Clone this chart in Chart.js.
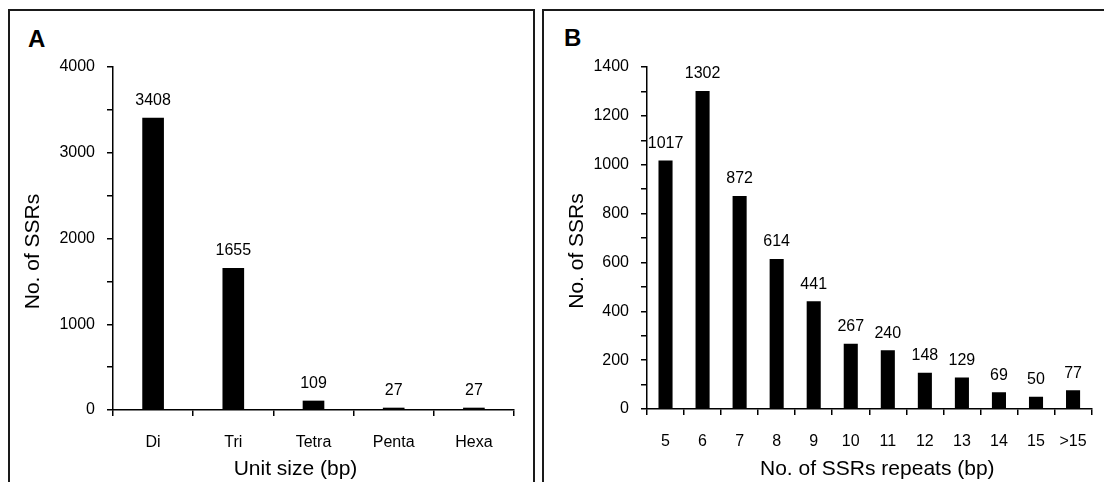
<!DOCTYPE html>
<html>
<head>
<meta charset="utf-8">
<script src="https://cdn.jsdelivr.net/npm/chart.js@4.4.1/dist/chart.umd.min.js"></script>
<style>
  html, body { margin: 0; padding: 0; background: #fff; }
  #page { position: relative; width: 1104px; height: 482px; overflow: hidden; font-family: 'Liberation Sans', Arial, sans-serif; }
  .box { position: absolute; border: 2px solid #1a1a1a; border-bottom: none; box-sizing: border-box; }
  #boxA { left: 8px; top: 9px; width: 527px; height: 480px; }
  #boxB { left: 542px; top: 9px; width: 600px; height: 480px; }
  .letter { position: absolute; font-weight: bold; font-size: 24px; line-height: 24px; color: #000; }
  canvas { position: absolute; top: 0; }
</style>
</head>
<body>
<div id="page">
  <div class="box" id="boxA"></div>
  <div class="box" id="boxB"></div>
  <div class="letter" style="left:28px; top:27px;">A</div>
  <div class="letter" style="left:564px; top:26px;">B</div>
  <canvas id="chartA" width="540" height="482" style="left:0"></canvas>
  <canvas id="chartB" width="564" height="482" style="left:540px"></canvas>
</div>
<script>
// Panel A: SSR unit size
const unitLabels = ['Di', 'Tri', 'Tetra', 'Penta', 'Hexa'];
const unitCounts = [3408, 1655, 109, 27, 27];

// Panel B: repeat number
const repeatLabels = ['5', '6', '7', '8', '9', '10', '11', '12', '13', '14', '15', '>15'];
const repeatCounts = [1017, 1302, 872, 614, 441, 267, 240, 148, 129, 69, 50, 77];

const FONT = "'Liberation Sans', Arial, sans-serif";

// draws the count above each bar
const valueLabels = {
    id: 'valueLabels',
    afterDatasetsDraw(chart) {
        const ctx = chart.ctx;
        const meta = chart.getDatasetMeta(0);
        ctx.save();
        ctx.font = '16px ' + FONT;
        ctx.fillStyle = '#000';
        ctx.textAlign = 'center';
        ctx.textBaseline = 'bottom';
        meta.data.forEach((bar, i) => {
            ctx.fillText(String(chart.data.datasets[0].data[i]), bar.x, bar.y - 9);
        });
        ctx.restore();
    }
};

// axis titles, nudged off-centre like the original figure
const axisTitles = {
    id: 'axisTitles',
    afterDraw(chart, args, o) {
        const ctx = chart.ctx;
        const area = chart.chartArea;
        ctx.save();
        ctx.font = '21px ' + FONT;
        ctx.fillStyle = '#000';
        ctx.textAlign = 'center';
        ctx.textBaseline = 'middle';
        ctx.fillText(o.xText, (area.left + area.right) / 2 + o.xShift, o.xTitleY);
        ctx.translate(o.yTitleX, (area.top + area.bottom) / 2 + o.yShift);
        ctx.rotate(-Math.PI / 2);
        ctx.fillText(o.yText, 0, 0);
        ctx.restore();
    }
};

function makeChart(id, labels, data, opts) {
    const ctx = document.getElementById(id).getContext('2d');
    return new Chart(ctx, {
        type: 'bar',
        data: {
            labels: labels,
            datasets: [{
                data: data,
                backgroundColor: '#000',
                borderWidth: 0,
                categoryPercentage: 1,
                barPercentage: opts.barPct
            }]
        },
        options: {
            responsive: false,
            animation: false,
            events: [],
            layout: { padding: { left: 0, right: opts.padRight, top: 67, bottom: 0 } },
            plugins: {
                legend: { display: false },
                tooltip: { enabled: false },
                axisTitles: {
                    xText: opts.xTitle, xShift: opts.xShift, xTitleY: 469,
                    yText: 'No. of SSRs', yTitleX: opts.yTitleX, yShift: 13
                }
            },
            scales: {
                x: {
                    grid: { offset: true, drawOnChartArea: false, color: '#000', tickLength: 6, lineWidth: 1.5 },
                    border: { display: true, color: '#000', width: 1.5 },
                    ticks: { color: '#000', font: { family: FONT, size: 16 }, padding: 17, autoSkip: false, maxRotation: 0 },
                    afterFit: (s) => { s.height = 482 - opts.bottom; }
                },
                y: {
                    min: 0,
                    max: opts.max,
                    grid: { drawOnChartArea: false, color: '#000', tickLength: 6, lineWidth: 1.5 },
                    border: { display: true, color: '#000', width: 1.5 },
                    ticks: {
                        stepSize: opts.minor,
                        autoSkip: false,
                        maxTicksLimit: 30,
                        color: '#000',
                        font: { family: FONT, size: 16 },
                        padding: 12,
                        callback: (v) => (v % opts.major === 0 ? String(v) : '')
                    },
                    afterFit: (s) => { s.width = opts.left; }
                }
            }
        },
        plugins: [valueLabels, axisTitles]
    });
}

makeChart('chartA', unitLabels, unitCounts, {
    barPct: 0.27, max: 4000, minor: 500, major: 1000,
    left: 113, padRight: 26, bottom: 410, yTitleX: 33, xShift: -18,
    xTitle: 'Unit size (bp)'
});

makeChart('chartB', repeatLabels, repeatCounts, {
    barPct: 0.38, max: 1400, minor: 100, major: 200,
    left: 107, padRight: 9, bottom: 409, yTitleX: 37, xShift: 8,
    xTitle: 'No. of SSRs repeats (bp)'
});
</script>
</body>
</html>
